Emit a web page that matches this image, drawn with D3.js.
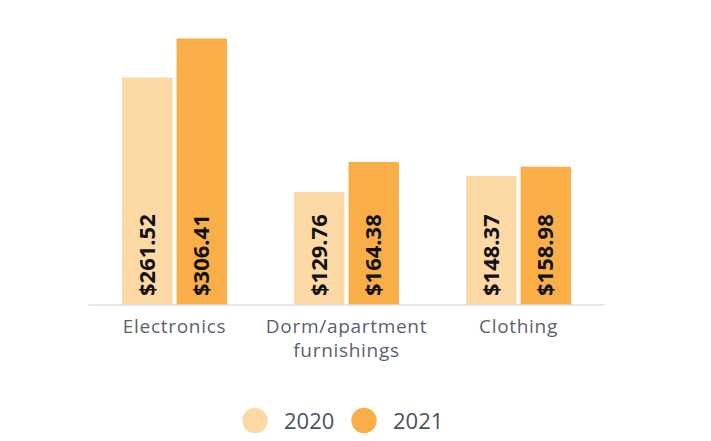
<!DOCTYPE html>
<html><head><meta charset="utf-8">
<script src="https://cdn.jsdelivr.net/npm/d3@7"></script>
<style>body{margin:0;background:#fff;} svg{display:block;}</style>
</head><body>
<svg id="c" width="711" height="441"></svg>
<script>
const categories = [["Electronics"], ["Dorm/apartment", "furnishings"], ["Clothing"]];
const categoryKeys = ["Electronics", "Dorm/apartment furnishings", "Clothing"];
const years = ["2020", "2021"];
const values2020 = [261.52, 129.76, 148.37];
const values2021 = [306.41, 164.38, 158.98];
const colors = ["#FDD9A6", "#F9AE47"];

const data = categoryKeys.map((c, i) => ({cat: c, vals: [values2020[i], values2021[i]]}));

const svg = d3.select("#c");
const baseY = 305;
const x0 = d3.scaleBand().domain(categoryKeys).range([88.5, 604.5]).paddingInner(0.39).paddingOuter(0.195);
const x1 = d3.scaleBand().domain(years).range([0, x0.bandwidth()]).paddingInner(0.075);
const y = d3.scaleLinear().domain([0, 350]).range([baseY, 0.5]);
const color = d3.scaleOrdinal().domain(years).range(colors);

const g = svg.selectAll("g.grp").data(data).enter().append("g")
  .attr("transform", d => `translate(${x0(d.cat)},0)`);

g.selectAll("rect").data(d => d.vals.map((v, j) => ({year: years[j], v})))
  .enter().append("rect")
  .attr("x", d => x1(d.year)).attr("width", x1.bandwidth())
  .attr("y", d => y(d.v)).attr("height", d => baseY - y(d.v))
  .attr("fill", d => color(d.year));

g.selectAll("text.val").data(d => d.vals.map((v, j) => ({year: years[j], v})))
  .enter().append("text").attr("class", "val")
  .attr("transform", d => `translate(${x1(d.year) + x1.bandwidth()/2 + 7.5},${baseY - 9}) rotate(-90)`)
  .attr("font-family", "'Open Sans', sans-serif")
  .attr("font-weight", 700).attr("font-size", 22).attr("fill", "#111")
  .text(d => "$" + d.v.toFixed(2));

// axis
const xAxis = d3.axisBottom(x0).tickSize(0).tickFormat("");
const ax = svg.append("g").attr("transform", `translate(0,${baseY})`).call(xAxis);
ax.select(".domain").attr("stroke", "#dcdfe3").attr("stroke-width", 1.5).attr("d", `M${x0.range()[0]},0H${x0.range()[1]}`);

svg.selectAll("text.cat").data(categoryKeys).enter().append("text").attr("class", "cat")
  .attr("x", d => x0(d) + x0.bandwidth()/2).attr("y", 333)
  .attr("text-anchor", "middle")
  .attr("font-family", "'Open Sans', Lato, sans-serif").attr("font-size", 19)
  .attr("letter-spacing", 0.7).attr("fill", "#5a6270")
  .each(function(d, i) {
    const t = d3.select(this);
    categories[i].forEach((line, k) => {
      t.append("tspan").attr("x", x0(d) + x0.bandwidth()/2).attr("dy", k === 0 ? 0 : 23.5).text(line);
    });
  });

// legend
const legendX = [255, 364];
const lg = svg.selectAll("g.leg").data(years).enter().append("g")
  .attr("transform", (d, i) => `translate(${legendX[i]},420.5)`);
lg.append("circle").attr("r", 12.7).attr("fill", d => color(d));
lg.append("text").attr("x", 29).attr("y", 8)
  .attr("font-family", "'Open Sans', Lato, sans-serif").attr("font-size", 22)
  .attr("fill", "#4a5262")
  .text(d => d);
</script>
</body></html>
